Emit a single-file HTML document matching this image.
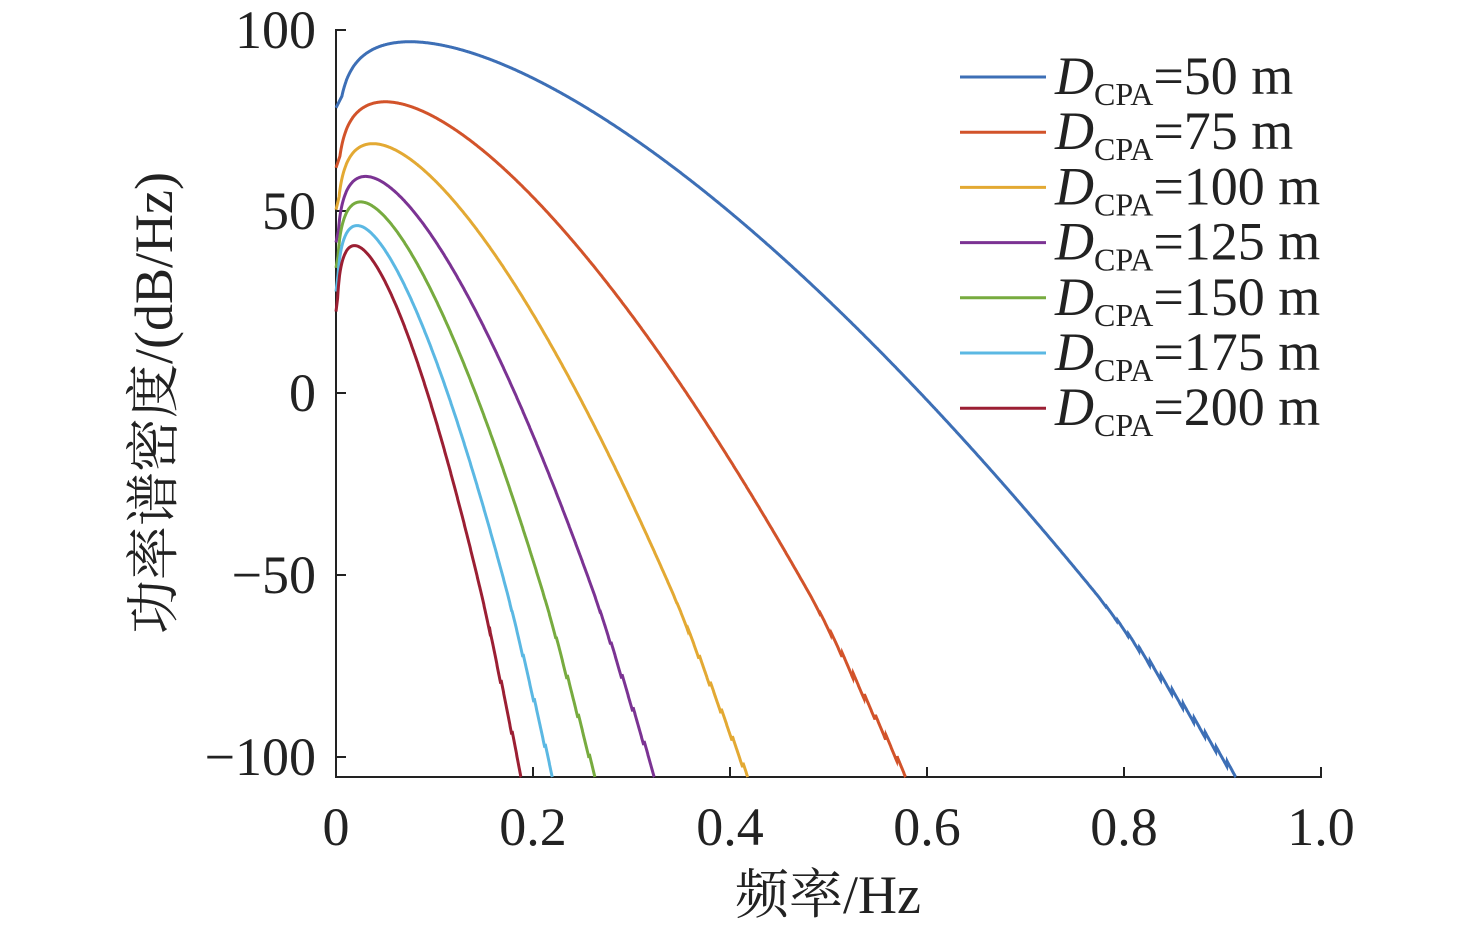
<!DOCTYPE html>
<html><head><meta charset="utf-8"><style>
html,body{margin:0;padding:0;background:#fff;}
svg text{font-family:"Liberation Serif","Noto Serif CJK SC",serif;fill:#222;}
</style></head><body>
<svg id="s" width="1476" height="931" xmlns="http://www.w3.org/2000/svg">
<g stroke="#222" stroke-width="2" fill="none">
<line x1="336" y1="29" x2="336" y2="778"/>
<line x1="335" y1="777" x2="1322" y2="777"/>
<line x1="336" y1="30" x2="346" y2="30"/>
<line x1="336" y1="211" x2="346" y2="211"/>
<line x1="336" y1="393" x2="346" y2="393"/>
<line x1="336" y1="575" x2="346" y2="575"/>
<line x1="336" y1="757" x2="346" y2="757"/>
<line x1="533" y1="777" x2="533" y2="767"/>
<line x1="730" y1="777" x2="730" y2="767"/>
<line x1="927" y1="777" x2="927" y2="767"/>
<line x1="1124" y1="777" x2="1124" y2="767"/>
<line x1="1321" y1="777" x2="1321" y2="767"/>
</g>
<g font-size="54" text-anchor="end">
<text x="316" y="48">100</text>
<text x="316" y="229">50</text>
<text x="316" y="411">0</text>
<text x="316" y="593">−50</text>
<text x="316" y="775">−100</text>
</g>
<g font-size="54" text-anchor="middle">
<text x="336" y="845">0</text>
<text x="533" y="845">0.2</text>
<text x="730" y="845">0.4</text>
<text x="927" y="845">0.6</text>
<text x="1124" y="845">0.8</text>
<text x="1321" y="845">1.0</text>
<text x="828" y="913">频率/Hz</text>
<text transform="translate(172,403) rotate(-90)">功率谱密度/(dB/Hz)</text>
</g>
<g id="curves" fill="none" stroke-width="3"></g>
<g id="leg"></g>
</svg>
<script>
var data=[[50,96.5,"#3D6FB6"],[75,80,"#D2532A"],[100,68.5,"#E3A933"],[125,59.5,"#7B3393"],[150,52.5,"#77AB3F"],[175,46,"#5BB8E3"],[200,40.5,"#9B1F33"]];
var k=7.98,c=259,g0=0.075;
var cg=document.getElementById('curves'),lg=document.getElementById('leg');
var ns="http://www.w3.org/2000/svg";
data.forEach(function(d,i){
 var D=d[0],pk=d[1],pts=[];
 var P0=pk+k*Math.log(0.004/g0)-c*(Math.pow(0.004,1.5)-Math.pow(g0,1.5));
 pts.push("336,"+(393-P0*3.64).toFixed(1));
 for(var j=0;j<=3000;j++){
  var f=0.0008+j*0.0004; var g=f*D/50;
  if(g<0.006) continue;
  var P=pk+k*Math.log(g/g0)-c*(Math.pow(g,1.5)-Math.pow(g0,1.5));
  if(P<-55){var ph=(f*985/11)%1; P+= -1.5*ph*Math.min(1,(-55-P)/20);}
  var x=336+f*985, y=393-P*3.64;
  if(y>777){pts.push(x.toFixed(1)+","+777);break;}
  pts.push(x.toFixed(1)+","+y.toFixed(1));
 }
 var p=document.createElementNS(ns,'polyline');
 p.setAttribute('points',pts.join(' '));p.setAttribute('stroke',d[2]);cg.appendChild(p);
 var ly=77+i*55.2;
 var l=document.createElementNS(ns,'line');
 l.setAttribute('x1',960);l.setAttribute('x2',1046);l.setAttribute('y1',ly);l.setAttribute('y2',ly);
 l.setAttribute('stroke',d[2]);l.setAttribute('stroke-width',3);lg.appendChild(l);
 var t=document.createElementNS(ns,'text');
 t.setAttribute('x',1055);t.setAttribute('y',ly+17);t.setAttribute('font-size',54);
 t.innerHTML='<tspan font-style="italic">D</tspan><tspan font-size="32" dy="11">CPA</tspan><tspan dy="-11">='+D+' m</tspan>';
 lg.appendChild(t);
});
</script>
</body></html>
